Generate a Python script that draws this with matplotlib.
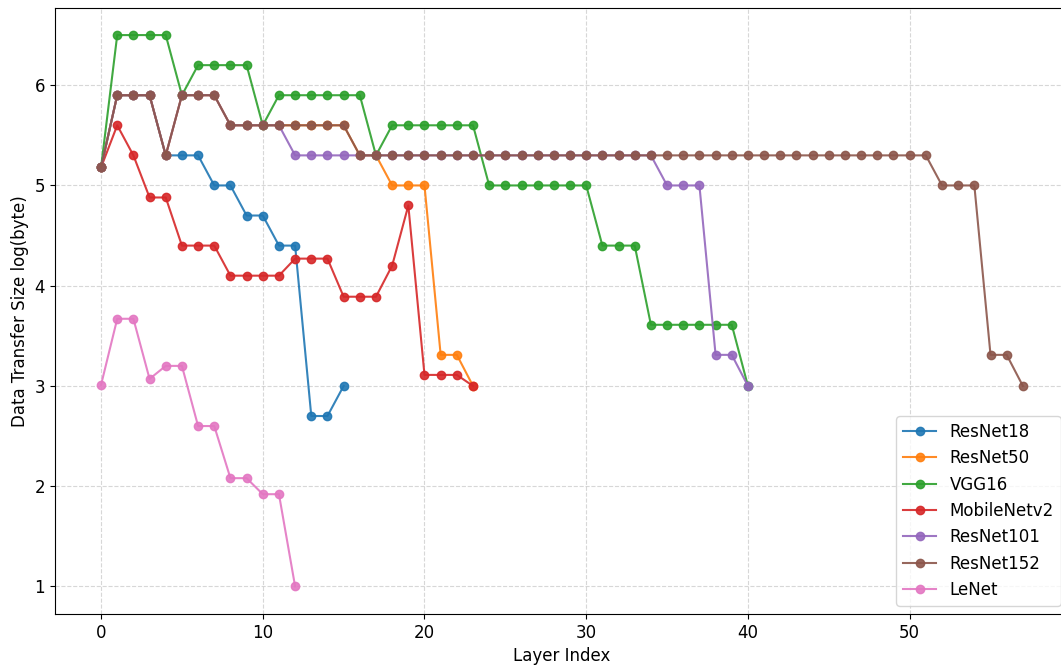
import numpy as np
import matplotlib
matplotlib.use("Agg")
import matplotlib.pyplot as plt

# values (log of bytes per layer)
resnet18 = [5.18, 5.9, 5.9, 5.9, 5.3, 5.3, 5.3, 5.0, 5.0, 4.7, 4.7, 4.4, 4.4, 2.7, 2.7, 3.0]
resnet50 = [5.18, 5.9, 5.9, 5.9, 5.3, 5.9, 5.9, 5.9, 5.6, 5.6, 5.6, 5.6, 5.6, 5.6, 5.6, 5.6,
            5.3, 5.3, 5.0, 5.0, 5.0, 3.31, 3.31, 3.0]
vgg16 = [5.18, 6.5, 6.5, 6.5, 6.5, 5.9, 6.2, 6.2, 6.2, 6.2, 5.6, 5.9, 5.9, 5.9, 5.9, 5.9,
         5.9, 5.3, 5.6, 5.6, 5.6, 5.6, 5.6, 5.6, 5.0, 5.0, 5.0, 5.0, 5.0, 5.0, 5.0,
         4.4, 4.4, 4.4, 3.61, 3.61, 3.61, 3.61, 3.61, 3.61, 3.0]
mobilenetv2 = [5.18, 5.6, 5.3, 4.88, 4.88, 4.4, 4.4, 4.4, 4.1, 4.1, 4.1, 4.1, 4.27, 4.27, 4.27,
               3.89, 3.89, 3.89, 4.2, 4.8, 3.11, 3.11, 3.11, 3.0]
resnet101 = [5.18, 5.9, 5.9, 5.9, 5.3, 5.9, 5.9, 5.9, 5.6, 5.6, 5.6, 5.6] + [5.3] * 23 + \
            [5.0, 5.0, 5.0, 3.31, 3.31, 3.0]
resnet152 = [5.18, 5.9, 5.9, 5.9, 5.3, 5.9, 5.9, 5.9, 5.6, 5.6, 5.6, 5.6, 5.6, 5.6, 5.6, 5.6] + \
            [5.3] * 36 + [5.0, 5.0, 5.0, 3.31, 3.31, 3.0]
lenet = [3.01, 3.67, 3.67, 3.07, 3.2, 3.2, 2.6, 2.6, 2.08, 2.08, 1.92, 1.92, 1.0]

series = [("ResNet18", resnet18), ("ResNet50", resnet50), ("VGG16", vgg16),
          ("MobileNetv2", mobilenetv2), ("ResNet101", resnet101),
          ("ResNet152", resnet152), ("LeNet", lenet)]

fig = plt.figure(figsize=(10.61, 6.65), dpi=100)
ax = fig.add_axes([0.0518, 0.0767, 1.0075 - 0.0518, 0.9887 - 0.0767])

for name, vals in series:
    ax.plot(np.arange(len(vals)), vals, marker="o", markersize=6, linewidth=1.5,
            label=name, alpha=0.9)

ax.grid(True, linestyle="--", alpha=0.5)
ax.set_xlabel("Layer Index", fontsize=12)
ax.set_ylabel("Data Transfer Size log(byte)", fontsize=12)
ax.tick_params(labelsize=12)
ax.legend(loc="lower right", fontsize=12)

fig.savefig("out.png", dpi=100)
